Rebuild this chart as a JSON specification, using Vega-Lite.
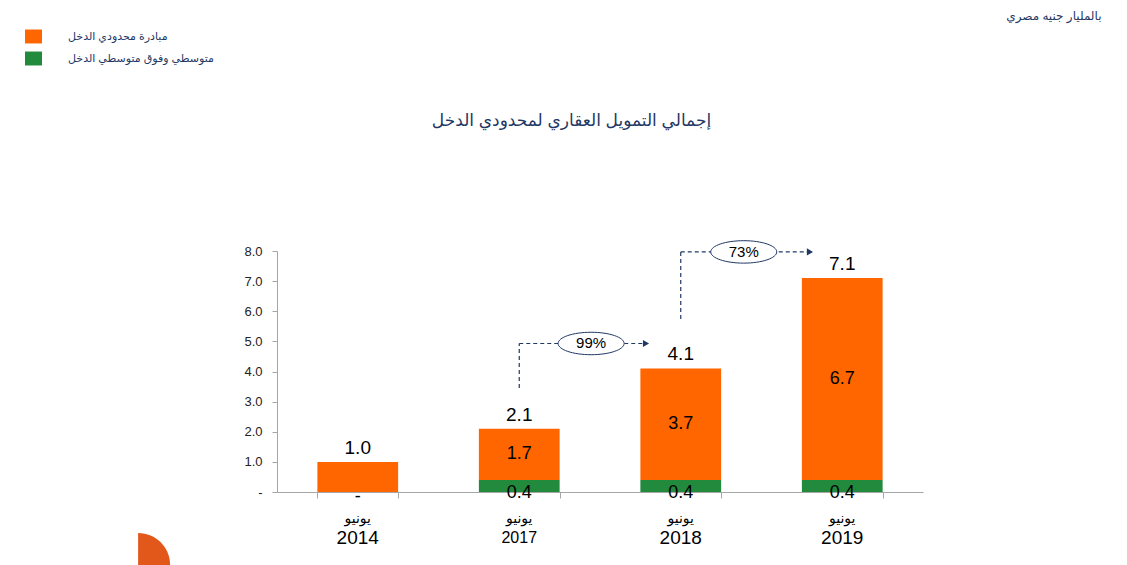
{
"$schema": "https://vega.github.io/schema/vega-lite/v6.json",
"width": 646, "height": 241, "autosize": "none",
"padding": {"left": 277, "top": 251, "right": 204, "bottom": 73},
"background": "white",
"config": {"view": {"stroke": null}, "font": "Liberation Sans, DejaVu Sans, sans-serif", "text": {"font": "Liberation Sans, DejaVu Sans, sans-serif"},
  "axisY": {"labelOverlap": false, "labelBound": false, "labelFlush": false}},
"datasets": {
 "segments": [
  {"year": "2014", "series": "مبادرة محدودي الدخل", "value": 1.0},
  {"year": "2014", "series": "متوسطي وفوق متوسطي الدخل", "value": 0},
  {"year": "2017", "series": "مبادرة محدودي الدخل", "value": 1.7},
  {"year": "2017", "series": "متوسطي وفوق متوسطي الدخل", "value": 0.4},
  {"year": "2018", "series": "مبادرة محدودي الدخل", "value": 3.7},
  {"year": "2018", "series": "متوسطي وفوق متوسطي الدخل", "value": 0.4},
  {"year": "2019", "series": "مبادرة محدودي الدخل", "value": 6.7},
  {"year": "2019", "series": "متوسطي وفوق متوسطي الدخل", "value": 0.4}
 ],
 "years": [
  {"year": "2014", "month": "يونيو", "orange": 1.0, "green": 0, "total": 1.0},
  {"year": "2017", "month": "يونيو", "orange": 1.7, "green": 0.4, "total": 2.1},
  {"year": "2018", "month": "يونيو", "orange": 3.7, "green": 0.4, "total": 4.1},
  {"year": "2019", "month": "يونيو", "orange": 6.7, "green": 0.4, "total": 7.1}
 ],
 "conn": [
  {"pct": "99%", "xa": 1.5, "ya": 3.45, "yb": 4.93, "xm": 1.945, "xt": 2.285},
  {"pct": "73%", "xa": 2.5, "ya": 5.74, "yb": 7.97, "xm": 2.89, "xt": 3.3}
 ],
 "deco": [{"x": -0.86, "y": -2.42}]
},
"layer": [
 {"layer": [
  {"data": {"name": "segments"}, "mark": {"type": "bar"},
   "encoding": {
    "x": {"field": "year", "type": "nominal", "scale": {"paddingInner": 0.5, "paddingOuter": 0.25},
      "axis": {"labels": false, "ticks": true, "tickBand": "extent", "tickSize": 6, "tickColor": "#A6A6A6", "domainColor": "#A6A6A6", "grid": false,
        "title": "بالمليار جنيه مصري", "titleX": 824, "titleY": -477, "titleAlign": "right", "titleBaseline": "middle", "titleAngle": 0, "titleFontSize": 12, "titleFontWeight": "normal", "titleColor": "#1F3864"}},
    "y": {"field": "value", "type": "quantitative", "stack": "zero", "scale": {"domain": [0, 8], "nice": false},
      "axis": {"orient": "left", "values": [0, 2, 4, 6, 8], "labelOverlap": false, "labelBound": false, "labelExpr": "datum.value == 0 ? '-' : format(datum.value, '.1f')", "labelFontSize": 13, "labelColor": "#222222", "tickSize": 5, "tickColor": "#A6A6A6", "domainColor": "#A6A6A6", "labelPadding": 10, "grid": false,
        "title": "إجمالي التمويل العقاري لمحدودي الدخل", "titleX": 294, "titleY": -131, "titleAngle": 0, "titleAlign": "center", "titleBaseline": "middle", "titleFontSize": 17, "titleFontWeight": "normal", "titleColor": "#1F3864"}},
    "color": {"field": "series", "type": "nominal",
      "scale": {"domain": ["مبادرة محدودي الدخل", "متوسطي وفوق متوسطي الدخل"], "range": ["#FF6600", "#218A3D"]},
      "legend": {"orient": "none", "legendX": -252, "legendY": -223, "title": null, "symbolType": "M-1,-0.82H1V0.82H-1Z", "symbolSize": 289, "symbolStrokeWidth": 0, "symbolOpacity": 1, "labelFontSize": 11, "labelColor": "#1F3864", "labelOffset": 26, "rowPadding": 6, "padding": 0}},
    "order": {"field": "series", "sort": "descending"}
   }},
  {"data": {"name": "years"}, "mark": {"type": "text", "baseline": "bottom", "dy": -4, "fontSize": 19, "color": "#000000"},
   "encoding": {"x": {"field": "year", "type": "nominal"}, "y": {"field": "total", "type": "quantitative", "scale": {"domain": [0, 8], "nice": false}}, "text": {"field": "total", "format": ".1f"}}},
  {"data": {"name": "years"}, "transform": [{"filter": "datum.green > 0"}, {"calculate": "datum.green + datum.orange / 2", "as": "mid"}],
   "mark": {"type": "text", "baseline": "middle", "fontSize": 18, "color": "#000000"},
   "encoding": {"x": {"field": "year", "type": "nominal"}, "y": {"field": "mid", "type": "quantitative", "scale": {"domain": [0, 8], "nice": false}}, "text": {"field": "orange", "format": ".1f"}}},
  {"data": {"name": "years"}, "transform": [{"filter": "datum.green > 0"}],
   "mark": {"type": "text", "baseline": "middle", "fontSize": 18, "color": "#000000", "dy": 1},
   "encoding": {"x": {"field": "year", "type": "nominal"}, "y": {"datum": 0, "scale": {"domain": [0, 8], "nice": false}}, "text": {"field": "green", "format": ".1f"}}},
  {"data": {"name": "years"}, "transform": [{"filter": "datum.green == 0"}],
   "mark": {"type": "text", "baseline": "middle", "fontSize": 18, "color": "#000000", "dy": 5, "text": "-"},
   "encoding": {"x": {"field": "year", "type": "nominal"}, "y": {"datum": 0, "scale": {"domain": [0, 8], "nice": false}}}},
  {"data": {"name": "years"},
   "mark": {"type": "text", "baseline": "middle", "fontSize": 14, "color": "#000000", "dy": 27},
   "encoding": {"x": {"field": "year", "type": "nominal"}, "y": {"datum": 0, "scale": {"domain": [0, 8], "nice": false}}, "text": {"field": "month"}}},
  {"data": {"name": "years"},
   "mark": {"type": "text", "baseline": "middle", "color": "#000000", "dy": 46},
   "encoding": {"x": {"field": "year", "type": "nominal"}, "y": {"datum": 0, "scale": {"domain": [0, 8], "nice": false}}, "text": {"field": "year"},
     "size": {"condition": {"test": "datum.year === '2017'", "value": 16}, "value": 19}}}
 ]},
 {"layer": [
  {"data": {"name": "conn"}, "mark": {"type": "rule", "strokeDash": [4, 3], "color": "#1F3864", "strokeWidth": 1.2},
   "encoding": {"x": {"field": "xa", "type": "quantitative", "scale": {"domain": [0, 4], "nice": false, "zero": false}, "axis": null},
     "y": {"field": "ya", "type": "quantitative", "scale": {"domain": [0, 8], "nice": false},
       "axis": {"orient": "left", "values": [1, 3, 5, 7], "labelOverlap": false, "labelExpr": "format(datum.value, '.1f')", "labelFontSize": 13, "labelColor": "#222222", "tickSize": 5, "tickColor": "#A6A6A6", "domain": false, "labelPadding": 10, "grid": false, "title": null}}, "y2": {"field": "yb"}}},
  {"data": {"name": "conn"}, "mark": {"type": "rule", "strokeDash": [4, 3], "color": "#1F3864", "strokeWidth": 1.2},
   "encoding": {"x": {"field": "xa", "type": "quantitative", "scale": {"domain": [0, 4], "nice": false, "zero": false}, "axis": null}, "x2": {"field": "xt"},
     "y": {"field": "yb", "type": "quantitative", "scale": {"domain": [0, 8], "nice": false},
       "axis": {"orient": "left", "values": [1, 3, 5, 7], "labelOverlap": false, "labelExpr": "format(datum.value, '.1f')", "labelFontSize": 13, "labelColor": "#222222", "tickSize": 5, "tickColor": "#A6A6A6", "domain": false, "labelPadding": 10, "grid": false, "title": null}}}},
  {"data": {"name": "conn"}, "mark": {"type": "point", "shape": "M-1,0A1,0.34 0 1,1 1,0A1,0.34 0 1,1 -1,0Z", "size": 4356, "filled": true, "fill": "#FFFFFF", "stroke": "#1F3864", "strokeWidth": 1, "opacity": 1},
   "encoding": {"x": {"field": "xm", "type": "quantitative", "scale": {"domain": [0, 4], "nice": false, "zero": false}, "axis": null},
     "y": {"field": "yb", "type": "quantitative", "scale": {"domain": [0, 8], "nice": false},
       "axis": {"orient": "left", "values": [1, 3, 5, 7], "labelOverlap": false, "labelExpr": "format(datum.value, '.1f')", "labelFontSize": 13, "labelColor": "#222222", "tickSize": 5, "tickColor": "#A6A6A6", "domain": false, "labelPadding": 10, "grid": false, "title": null}}}},
  {"data": {"name": "conn"}, "mark": {"type": "point", "shape": "triangle-right", "size": 50, "filled": true, "color": "#1F3864", "opacity": 1},
   "encoding": {"x": {"field": "xt", "type": "quantitative", "scale": {"domain": [0, 4], "nice": false, "zero": false}, "axis": null},
     "y": {"field": "yb", "type": "quantitative", "scale": {"domain": [0, 8], "nice": false},
       "axis": {"orient": "left", "values": [1, 3, 5, 7], "labelOverlap": false, "labelExpr": "format(datum.value, '.1f')", "labelFontSize": 13, "labelColor": "#222222", "tickSize": 5, "tickColor": "#A6A6A6", "domain": false, "labelPadding": 10, "grid": false, "title": null}}}},
  {"data": {"name": "conn"}, "mark": {"type": "text", "baseline": "middle", "fontSize": 15, "color": "#000000"},
   "encoding": {"x": {"field": "xm", "type": "quantitative", "scale": {"domain": [0, 4], "nice": false, "zero": false}, "axis": null},
     "y": {"field": "yb", "type": "quantitative", "scale": {"domain": [0, 8], "nice": false},
       "axis": {"orient": "left", "values": [1, 3, 5, 7], "labelOverlap": false, "labelExpr": "format(datum.value, '.1f')", "labelFontSize": 13, "labelColor": "#222222", "tickSize": 5, "tickColor": "#A6A6A6", "domain": false, "labelPadding": 10, "grid": false, "title": null}}, "text": {"field": "pct"}}},
  {"data": {"name": "deco"}, "mark": {"type": "point", "shape": "M0,0L0,-1A1,1 0 0,1 1,0Z", "size": 4096, "filled": true, "color": "#E2571A", "opacity": 1},
   "encoding": {"x": {"field": "x", "type": "quantitative", "scale": {"domain": [0, 4], "nice": false, "zero": false}, "axis": null},
     "y": {"field": "y", "type": "quantitative", "scale": {"domain": [0, 8], "nice": false},
       "axis": {"orient": "left", "values": [1, 3, 5, 7], "labelOverlap": false, "labelExpr": "format(datum.value, '.1f')", "labelFontSize": 13, "labelColor": "#222222", "tickSize": 5, "tickColor": "#A6A6A6", "domain": false, "labelPadding": 10, "grid": false, "title": null}}}}
 ]}
],
"resolve": {"scale": {"x": "independent"}, "axis": {"y": "independent"}}
}
